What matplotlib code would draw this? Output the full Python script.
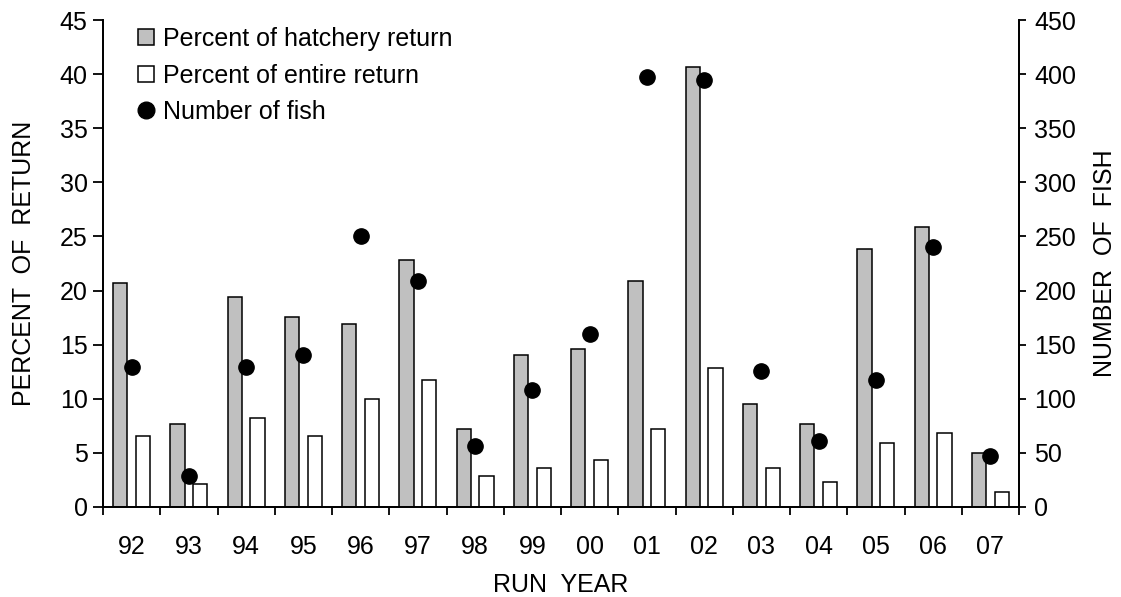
""" Hatchery return percentages and fish numbers by run year """
import numpy as np
import matplotlib
import matplotlib.pyplot as plt
from matplotlib.lines import Line2D
from matplotlib.ticker import FixedLocator

matplotlib.use('Agg')
plt.rcParams['font.family'] = ['Liberation Sans', 'DejaVu Sans']

years = ['92', '93', '94', '95', '96', '97', '98', '99', '00', '01', '02', '03', '04', '05', '06', '07']
pct_hatchery = [20.7, 7.7, 19.4, 17.6, 16.9, 22.8, 7.2, 14.0, 14.6, 20.9, 40.7, 9.5, 7.7, 23.8, 25.9, 5.0]
pct_entire = [6.6, 2.1, 8.2, 6.6, 10.0, 11.7, 2.9, 3.6, 4.3, 7.2, 12.8, 3.6, 2.3, 5.9, 6.8, 1.4]
num_fish = [129, 29, 129, 140, 250, 209, 56, 108, 160, 397, 395, 126, 61, 117, 240, 47]

FS = 18
x = np.arange(len(years))
fig = plt.figure(figsize=(11.21, 5.97), dpi=100)
ax = fig.add_axes([103/1121, 90/597, 916/1121, 487/597])
ax2 = ax.twinx()

ax.bar(x - 0.2, pct_hatchery, width=0.25, color='#c0c0c0', edgecolor='black', linewidth=1.1, zorder=2)
ax.bar(x + 0.2, pct_entire, width=0.25, color='white', edgecolor='black', linewidth=1.1, zorder=2)
ax2.plot(x, num_fish, 'o', color='black', markersize=11, zorder=3)

ax.set_xlim(-0.5, len(years) - 0.5)
ax.set_ylim(0, 45)
ax2.set_ylim(0, 450)
ax.set_yticks(np.arange(0, 46, 5))
ax2.set_yticks(np.arange(0, 451, 50))
ax.set_xticks(x)
ax.set_xticklabels(years)
ax.xaxis.set_minor_locator(FixedLocator(np.arange(-0.5, len(years), 1.0)))
ax.tick_params(axis='x', which='major', length=0, pad=20, labelsize=FS)
ax.tick_params(axis='x', which='minor', length=6, width=1.3, direction='out')
ax.tick_params(axis='y', length=7, width=1.3, direction='out', labelsize=FS, pad=4)
ax2.tick_params(axis='y', length=5, width=1.3, direction='out', labelsize=FS, pad=6)

for a in (ax, ax2):
    a.spines['top'].set_visible(False)
    for s in ('left', 'right', 'bottom'):
        a.spines[s].set_linewidth(1.3)

ax.set_ylabel('PERCENT  OF  RETURN', fontsize=FS)
ax2.set_ylabel('NUMBER  OF  FISH', fontsize=FS)
ax.set_xlabel('RUN  YEAR', fontsize=FS)
ax.yaxis.set_label_coords(-0.073, 0.5)
ax2.yaxis.set_label_coords(1.0808, 0.5)
ax.xaxis.set_label_coords(0.5, -0.1355)

handles = [
    Line2D([], [], marker='s', linestyle='none', markersize=11, markerfacecolor='#c0c0c0', markeredgecolor='black', markeredgewidth=1.1),
    Line2D([], [], marker='s', linestyle='none', markersize=11, markerfacecolor='white', markeredgecolor='black', markeredgewidth=1.1),
    Line2D([], [], marker='o', linestyle='none', markersize=12, color='black'),
]
ax2.legend(handles, ['Percent of hatchery return', 'Percent of entire return', 'Number of fish'],
           loc='upper left', bbox_to_anchor=(0.027, 1.006), frameon=False, fontsize=FS,
           handlelength=0.7, handletextpad=0.3, labelspacing=0.5, borderaxespad=0)

fig.savefig('out.png', dpi=100)
plt.close()
